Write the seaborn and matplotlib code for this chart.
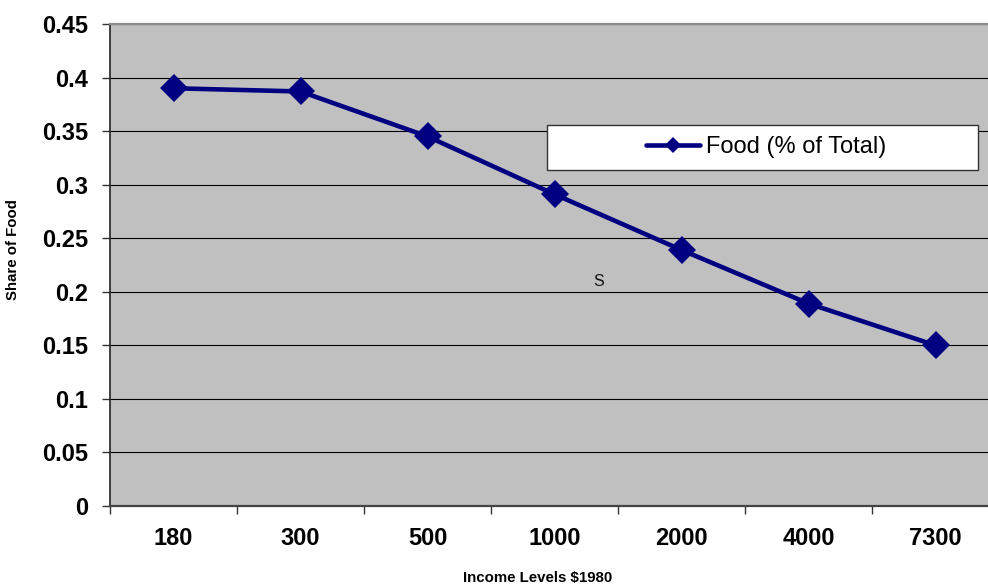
import matplotlib
matplotlib.use("Agg")
import matplotlib.pyplot as plt
from matplotlib.patches import Rectangle
from matplotlib.ticker import FixedLocator
import seaborn as sns
import pandas as pd

# Share of household spending that goes to food, by income level
income_levels = ["180", "300", "500", "1000", "2000", "4000", "7300"]
food_share = [0.39, 0.387, 0.345, 0.291, 0.239, 0.189, 0.150]
series_name = "Food (% of Total)"
y_ticks = [0, 0.05, 0.1, 0.15, 0.2, 0.25, 0.3, 0.35, 0.4, 0.45]
y_tick_labels = ["0", "0.05", "0.1", "0.15", "0.2", "0.25", "0.3", "0.35", "0.4", "0.45"]

df = pd.DataFrame({"income": income_levels, "share": food_share})

sns.set_theme(style="white", rc={"text.color": "black", "axes.labelcolor": "black",
                                 "xtick.color": "black", "ytick.color": "black"})
plt.rcParams["font.family"] = ["Liberation Sans", "DejaVu Sans"]

W, H = 988, 586
fig = plt.figure(figsize=(W / 100, H / 100), dpi=100)
# plot area in pixel terms: left 110, right 999, top 24, bottom 506
ax = fig.add_axes([110 / W, (H - 506) / H, (999 - 110) / W, (506 - 24) / H])
ax.set_facecolor("#c0c0c0")

navy = "#000080"
sns.lineplot(data=df, x="income", y="share", ax=ax, color=navy, linewidth=3.3,
             marker="D", markersize=14, markeredgewidth=0, label=series_name,
             sort=False, zorder=5)

n = len(income_levels)
ax.set_xlim(-0.5, n - 0.5)
ax.set_ylim(0, 0.45)

# y axis: gridlines every 0.05
ax.set_yticks(y_ticks)
ax.set_yticklabels(y_tick_labels)
ax.yaxis.grid(True, color="black", linewidth=0.8)
ax.set_axisbelow(True)
ax.tick_params(axis="y", which="major", direction="out", length=6, width=1,
               color="#333333", labelcolor="black", pad=10, labelsize=17, left=True)

# x axis: labels centred on categories, tick marks between them
ax.set_xticks(range(n))
ax.set_xticklabels(income_levels)
ax.xaxis.set_minor_locator(FixedLocator([i - 0.5 for i in range(n + 1)]))
ax.tick_params(axis="x", which="major", length=0, pad=15, labelsize=17,
               labelcolor="black")
ax.tick_params(axis="x", which="minor", direction="out", length=6, width=1,
               color="#333333", bottom=True)
for lbl in ax.get_xticklabels() + ax.get_yticklabels():
    lbl.set_fontweight("bold")

# axis frame
ax.spines["left"].set_color("#222222")
ax.spines["left"].set_linewidth(1.2)
ax.spines["bottom"].set_color("#444444")
ax.spines["bottom"].set_linewidth(1.6)
ax.spines["top"].set_color("#8c8c8c")
ax.spines["top"].set_linewidth(1.6)
ax.spines["right"].set_visible(False)

# axis titles
ax.set_xlabel("Income Levels $1980", fontsize=10.8, fontweight="bold", color="black")
ax.set_ylabel("Share of Food", fontsize=10.8, fontweight="bold", color="black")
ax.xaxis.label.set_va("center")
ax.yaxis.label.set_va("center")
ax.xaxis.set_label_coords((537.5 - 110) / 889, (506 - 578) / 482)
ax.yaxis.set_label_coords((13 - 110) / 889, (506 - 250) / 482)

# stray annotation inside the plot area
ax.text((599 - 110) / 889, (506 - 281) / 482, "S", transform=ax.transAxes,
        ha="center", va="center", fontsize=11.5, color="#111111")

# legend: white box with centred entry
bx0, bx1 = (547 - 110) / 889, (978 - 110) / 889
by0, by1 = (506 - 170) / 482, (506 - 125) / 482
ax.add_patch(Rectangle((bx0, by0), bx1 - bx0, by1 - by0, transform=ax.transAxes,
                       facecolor="white", edgecolor="#333333", linewidth=1.0,
                       zorder=6))
leg = ax.legend(loc="center", bbox_to_anchor=((bx0 + bx1) / 2 + 0.004, (by0 + by1) / 2),
                frameon=False, fontsize=17, handlelength=2.3, handletextpad=0.25,
                borderaxespad=0)
leg.set_zorder(7)
for t in leg.get_texts():
    t.set_color("black")
for h in leg.legend_handles:
    h.set_markersize(8)
    h.set_linewidth(3.3)

fig.savefig("out.png", dpi=100)
